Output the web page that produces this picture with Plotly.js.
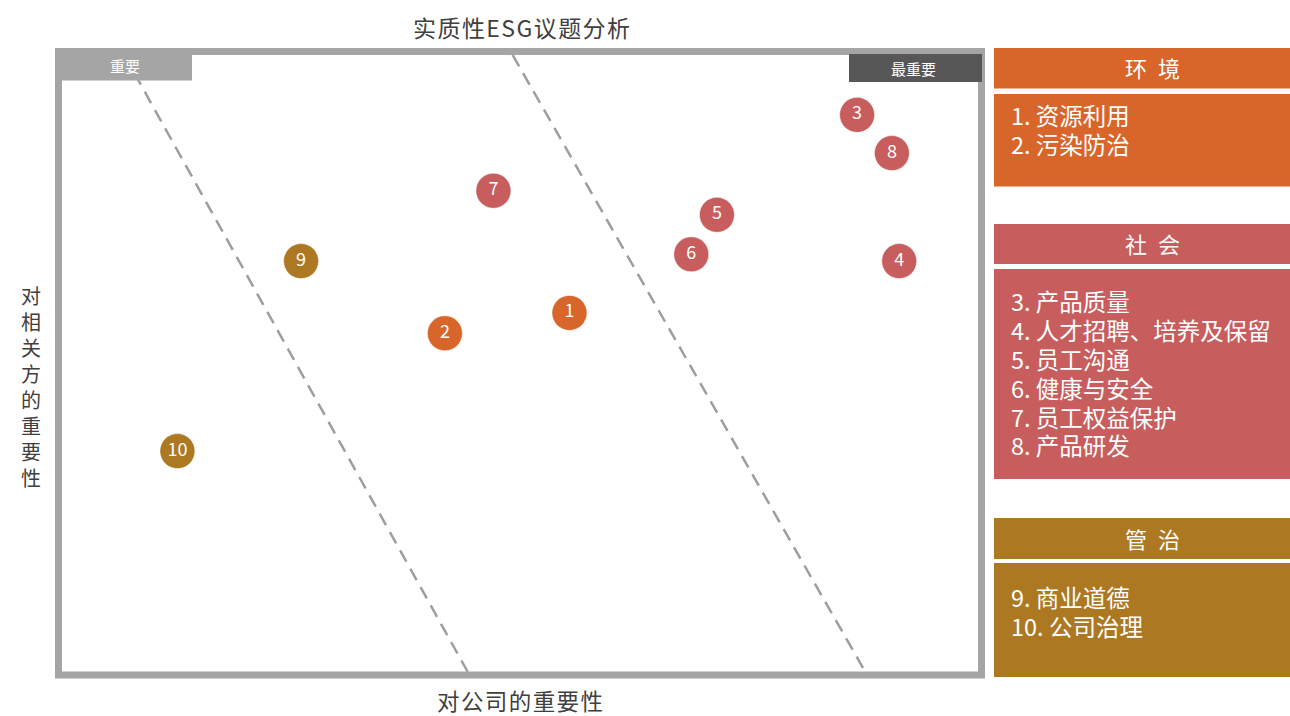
<!DOCTYPE html>
<html>
<head>
<meta charset="utf-8">
<script src="https://cdn.plot.ly/plotly-3.0.1.min.js"></script>
<style>
html,body{margin:0;padding:0;background:#fff;}
#chart{width:1290px;height:716px;}
</style>
</head>
<body>
<div id="chart"></div>
<script>
// ---- data ----
const issueIds = ['1','2','3','4','5','6','7','8','9','10'];
const companyImportance = [55.4, 41.8, 86.8, 91.4, 71.5, 68.7, 47.1, 90.6, 26.1, 12.6];
const stakeholderImportance = [58.2, 54.9, 90.3, 66.6, 74.1, 67.7, 78.0, 84.1, 66.6, 35.8];
const issueCategory = ['环境','环境','社会','社会','社会','社会','社会','社会','管治','管治'];

const categories = ['环境','社会','管治'];
const categoryHeaders = ['环\u2002境','社\u2002会','管\u2002治'];
const envItems = ['1. 资源利用','2. 污染防治'];
const socItems = ['3. 产品质量','4. 人才招聘、培养及保留','5. 员工沟通','6. 健康与安全','7. 员工权益保护','8. 产品研发'];
const govItems = ['9. 商业道德','10. 公司治理'];

// threshold (dashed) lines in data units
const lineLowX = [6.8, 44.3];
const lineLowY = [100, 0];
const lineHighX = [49.2, 87.7];
const lineHighY = [100, 0];

const titleText = '实质性ESG议题分析';
const xTitle = '对公司的重要性';
const yTitle = '对相关方的重要性';
const cornerLow = '重要';
const cornerHigh = '最重要';

// ---- style ----
const FONT = '"Noto Sans CJK SC", "Noto Sans", sans-serif';
const catColors = {'环境':'#D8652A','社会':'#C75D5D','管治':'#AD7822'};
const frameGrey = '#A5A5A5';
const spaced = s => s.split('').join('\u200A');

// plot area in pixels
const L = 62, R = 978, T = 55, B = 672;
const W = 1290, H = 716;
const px = x => (x - L) / (R - L);
const py = y => (B - y) / (B - T);

const traces = [];
const dashStyle = {color:'#9E9E9E', width:2.5, dash:'13px,8px'};
traces.push({x: lineLowX, y: lineLowY, mode:'lines', line: dashStyle, hoverinfo:'skip', showlegend:false});
traces.push({x: lineHighX, y: lineHighY, mode:'lines', line: dashStyle, hoverinfo:'skip', showlegend:false});
traces.push({
  x: companyImportance,
  y: stakeholderImportance,
  text: issueIds,
  mode: 'markers+text',
  textposition: 'middle center',
  textfont: {family: FONT, size: 18, color: '#FFFFFF'},
  marker: {size: 35, color: issueCategory.map(c => catColors[c]), line:{color:'#FFFFFF', width:0.5}},
  cliponaxis: false,
  hoverinfo: 'text',
  showlegend: false
});

const shapes = [];
const annotations = [];

// frame
shapes.push({type:'rect', xref:'paper', yref:'paper', x0:px(58.5), x1:px(981.5), y0:py(675), y1:py(51.5),
  line:{color:frameGrey, width:7}, fillcolor:'rgba(0,0,0,0)', layer:'above'});
// corner label boxes
shapes.push({type:'rect', xref:'paper', yref:'paper', x0:px(55), x1:px(192), y0:py(80.5), y1:py(48),
  line:{width:0}, fillcolor:frameGrey, layer:'above'});
shapes.push({type:'rect', xref:'paper', yref:'paper', x0:px(849), x1:px(982), y0:py(82), y1:py(54),
  line:{width:0}, fillcolor:'#585757', layer:'above'});
annotations.push({xref:'paper', yref:'paper', x:px(125), y:py(66), text:cornerLow, showarrow:false,
  xanchor:'center', yanchor:'middle', font:{family:FONT, size:15, color:'#FFFFFF'}});
annotations.push({xref:'paper', yref:'paper', x:px(913), y:py(68), text:cornerHigh, showarrow:false,
  xanchor:'center', yanchor:'middle', font:{family:FONT, size:15, color:'#FFFFFF'}});

// titles
annotations.push({xref:'paper', yref:'paper', x:px(521), y:py(27), text:spaced(titleText), showarrow:false,
  xanchor:'center', yanchor:'middle', font:{family:FONT, size:23, color:'#404040'}});
annotations.push({xref:'paper', yref:'paper', x:px(520), y:py(700), text:spaced(xTitle), showarrow:false,
  xanchor:'center', yanchor:'middle', font:{family:FONT, size:22.5, color:'#404040'}});
annotations.push({xref:'paper', yref:'paper', x:px(31), y:py(386), text:yTitle.split('').join('<br>'), showarrow:false,
  xanchor:'center', yanchor:'middle', align:'center', font:{family:FONT, size:20, color:'#404040'}});

// right side panels
const panels = [
  {cat:'环境', hTop:48, hBot:88.5, bTop:94, bBot:186.5, firstLine:115, items:envItems},
  {cat:'社会', hTop:224, hBot:264, bTop:269, bBot:479, firstLine:300.5, items:socItems},
  {cat:'管治', hTop:518, hBot:559, bTop:563, bBot:677, firstLine:596.5, items:govItems}
];
const panelL = 994, panelR = 1310;
const itemGap = 29;
panels.forEach((p, i) => {
  const col = catColors[p.cat];
  shapes.push({type:'rect', xref:'paper', yref:'paper', x0:px(panelL), x1:px(panelR), y0:py(p.hBot), y1:py(p.hTop),
    line:{width:0}, fillcolor:col, layer:'above'});
  shapes.push({type:'rect', xref:'paper', yref:'paper', x0:px(panelL), x1:px(panelR), y0:py(p.bBot), y1:py(p.bTop),
    line:{width:0}, fillcolor:col, layer:'above'});
  annotations.push({xref:'paper', yref:'paper', x:px(1152), y:py((p.hTop+p.hBot)/2 - 1), text:categoryHeaders[i],
    showarrow:false, xanchor:'center', yanchor:'middle', font:{family:FONT, size:22, color:'#FFFFFF'}});
  p.items.forEach((t, k) => {
    annotations.push({xref:'paper', yref:'paper', x:px(1009), y:py(p.firstLine + k*itemGap), text:t,
      showarrow:false, xanchor:'left', yanchor:'middle', font:{family:FONT, size:23.5, color:'#FFFFFF'}});
  });
});

const layout = {
  width: W, height: H,
  margin: {l: L, r: W - R, t: T, b: H - B, pad: 0},
  paper_bgcolor: '#FFFFFF',
  plot_bgcolor: '#FFFFFF',
  xaxis: {range:[0,100], showgrid:false, zeroline:false, showticklabels:false, showline:false, ticks:'', fixedrange:true},
  yaxis: {range:[0,100], showgrid:false, zeroline:false, showticklabels:false, showline:false, ticks:'', fixedrange:true},
  shapes: shapes,
  annotations: annotations,
  showlegend: false,
  hovermode: 'closest'
};

Plotly.newPlot('chart', traces, layout, {displayModeBar:false, staticPlot:true});
</script>
</body>
</html>
